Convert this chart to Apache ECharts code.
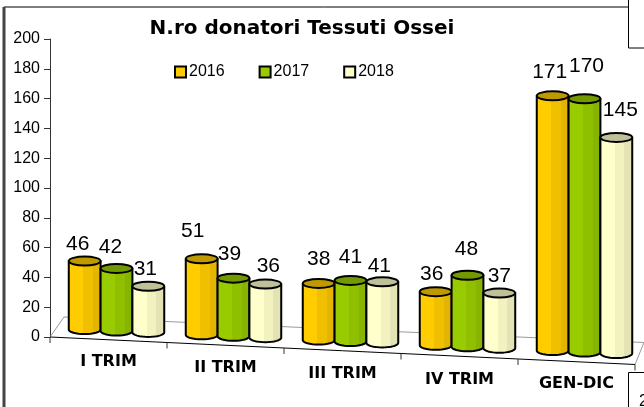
<!DOCTYPE html>
<html><head><meta charset="utf-8">
<style>html,body{margin:0;padding:0;background:#fff}#c{width:644px;height:407px}</style>
<script src="https://cdn.jsdelivr.net/npm/echarts@6/dist/echarts.min.js"></script>
</head><body><div id="c"></div>
<script>
const categories = ['I TRIM','II TRIM','III TRIM','IV TRIM','GEN-DIC'];
const years = ['2016','2017','2018'];
const values2016 = [46,51,38,36,171];
const values2017 = [42,39,41,48,170];
const values2018 = [31,36,41,37,145];
const yTicks = {min:0,max:200,interval:20};

const palettes = [
  {front:'#FFCC00',mid:'#F0C000',side:'#E3B500',top:'#BF9900'},
  {front:'#99CC00',mid:'#90BF00',side:'#87B400',top:'#739900'},
  {front:'#FFFFCC',mid:'#F2F2C0',side:'#E3E3B5',top:'#BFBF99'}
];
// hand placed label offsets of the reference, [dx,dy] from each cylinder's top
const labelNudge = [
  [[-7,-17],[-9,-28],[0,-24],[-4,-18],[-3,-24]],
  [[-6,-21],[-4,-24],[0,-23],[-1,-26],[2,-33]],
  [[-3,-17],[3,-18],[-3,-16],[0,-17],[4,-27]]
];
const labelDrop = [0,6,12,18,22];

const FLOOR_SLOPE = 0.047, BASE_SLOPE = 0.045, BASE_LIFT = 9, DEPTH_DX = 8;
const FONT = '"Liberation Sans", Arial, sans-serif';

function cylinder(params, api, s){
  const i = api.value(0), v = api.value(1);
  const c = api.coord([i,0]);
  const band = api.size([1,0])[0];
  const w = band*0.272, rx = w/2, ry = 4.5;
  const cx = c[0] + DEPTH_DX + (s-1)*w;
  const x0 = params.coordSys.x;
  const yBase = c[1] - BASE_LIFT + BASE_SLOPE*(cx-x0);
  const yTop = yBase - api.size([0,v])[1];
  const pts = [[cx-rx,yTop]];
  for(let k=0;k<=16;k++){
    const a = Math.PI*(1-k/16);
    pts.push([cx+rx*Math.cos(a), yBase+ry*Math.sin(a)]);
  }
  pts.push([cx+rx,yTop]);
  const p = palettes[s];
  const fill = new echarts.graphic.LinearGradient(0,0,1,0,[
    {offset:0,color:p.front},{offset:.46,color:p.front},
    {offset:.46,color:p.mid},{offset:.74,color:p.mid},
    {offset:.74,color:p.side},{offset:1,color:p.side}]);
  const n = labelNudge[s][i];
  return {type:'group',children:[
    {type:'polygon',shape:{points:pts},style:{fill,stroke:'#000',lineWidth:2,lineJoin:'round'}},
    {type:'ellipse',shape:{cx,cy:yTop,rx,ry},style:{fill:p.top,stroke:'#000',lineWidth:2}},
    {type:'text',style:{text:String(v),x:cx+n[0],y:yTop+n[1],align:'center',verticalAlign:'middle',
      font:'21px '+FONT,fill:'#000'}}
  ]};
}

function floor(params, api){
  const g = params.coordSys;
  const yAt = x => g.y+g.height+FLOOR_SLOPE*(x-g.x);
  const xr = g.x+g.width;
  const back0 = [g.x+14,g.y+g.height-20];
  const backY = x => back0[1]+0.044*(x-back0[0]);
  const kids = [
    {type:'line',shape:{x1:g.x,y1:yAt(g.x),x2:back0[0],y2:back0[1]},style:{stroke:'#999',lineWidth:1}},
    {type:'line',shape:{x1:back0[0],y1:back0[1],x2:644,y2:backY(644)},style:{stroke:'#999',lineWidth:1}},
    {type:'line',shape:{x1:xr,y1:yAt(xr),x2:644,y2:backY(644)},style:{stroke:'#999',lineWidth:1}},
    {type:'line',shape:{x1:g.x,y1:yAt(g.x),x2:xr,y2:yAt(xr)},style:{stroke:'#000',lineWidth:1}}
  ];
  const n = categories.length;
  for(let k=0;k<=n;k++){
    const x = g.x+g.width*k/n;
    kids.push({type:'line',shape:{x1:x,y1:yAt(x),x2:x,y2:yAt(x)+6},style:{stroke:'#333',lineWidth:1}});
  }
  return {type:'group',children:kids};
}

const rich = {};
categories.forEach((c,i)=>{ rich['c'+i] = {padding:[labelDrop[i],0,0,0],fontSize:16,fontWeight:'bold',fontFamily:'"DejaVu Sans"',color:'#000'}; });

const option = {
  animation:false,
  backgroundColor:'#fff',
  title:{text:'N.ro donatori Tessuti Ossei',left:297,top:14,textAlign:'center',
    textStyle:{fontFamily:'"DejaVu Sans"',fontWeight:'bold',fontSize:20,color:'#000'}},
  legend:{show:true,data:years,left:169,top:59,itemWidth:11,itemHeight:11,itemGap:34,icon:'rect',
    textStyle:{fontFamily:FONT,fontSize:16,color:'#000',padding:[0,0,0,-2]}},
  grid:{left:50,right:9,top:39,bottom:70,containLabel:false},
  xAxis:{type:'category',data:categories,axisLine:{show:false},axisTick:{show:false},splitLine:{show:false},
    axisLabel:{interval:0,margin:17,formatter:(v,i)=>'{c'+i+'|'+v+'}',rich}},
  yAxis:{type:'value',min:yTicks.min,max:yTicks.max,interval:yTicks.interval,
    splitLine:{show:false},
    axisLine:{show:true,lineStyle:{color:'#333',width:1}},
    axisTick:{show:true,length:6,lineStyle:{color:'#333',width:1}},
    axisLabel:{margin:10,fontFamily:FONT,fontSize:16,color:'#000'}},
  series:[
    {type:'custom',name:'floor',silent:true,clip:false,data:[[0,0]],encode:{x:0,y:1},renderItem:floor,z:1},
    ...[values2016,values2017,values2018].map((vals,s)=>({
      type:'custom',name:years[s],clip:false,z:2+s,
      itemStyle:{color:palettes[s].front,borderColor:'#000',borderWidth:2},
      data:vals.map((v,i)=>[i,v]),encode:{x:0,y:1},
      renderItem:(p,a)=>cylinder(p,a,s)
    }))
  ],
  graphic:[
    {type:'rect',z:-1,silent:true,shape:{x:4,y:7,width:660,height:420},style:{fill:'#fff',stroke:'#000',lineWidth:1}},
    {type:'line',z:-1,silent:true,shape:{x1:4,y1:7,x2:4,y2:407},style:{stroke:'#444',lineWidth:3}},
    {type:'rect',z:50,silent:true,shape:{x:628.5,y:-5,width:40,height:53},style:{fill:'#fff',stroke:'#000',lineWidth:1}},
    {type:'rect',z:50,silent:true,shape:{x:628.5,y:372.5,width:40,height:50},style:{fill:'#fff',stroke:'#000',lineWidth:1}},
    {type:'text',z:51,silent:true,style:{text:'2',x:639,y:402,verticalAlign:'middle',font:'16px '+FONT,fill:'#000'}}
  ]
};
const chart = echarts.init(document.getElementById('c'),null,{renderer:'canvas'});
chart.setOption(option);
</script></body></html>
